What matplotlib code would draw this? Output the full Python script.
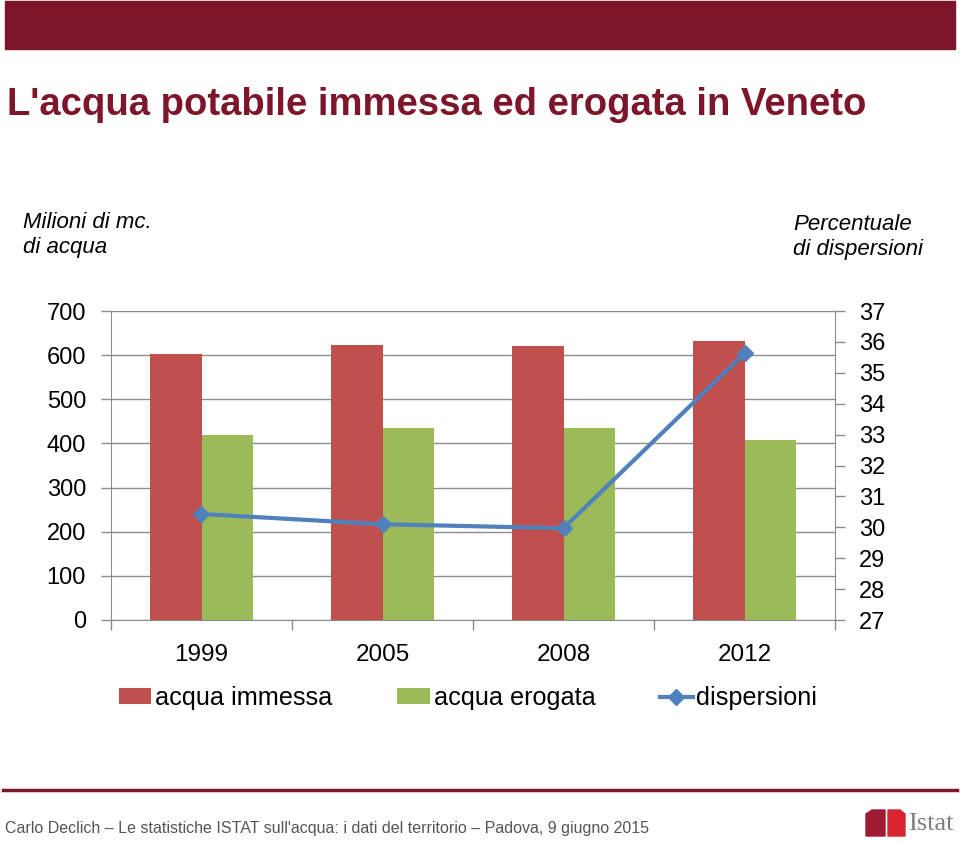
import matplotlib
matplotlib.use("Agg")
import matplotlib.pyplot as plt
import numpy as np
from matplotlib.patches import Rectangle, Polygon
from matplotlib.lines import Line2D

years = ['1999', '2005', '2008', '2012']
immessa = [602, 623, 621, 633]
erogata = [418, 436, 435, 407]
dispersioni = [30.43, 30.1, 29.97, 35.63]

RED = '#C0504D'
GREEN = '#9BBB59'
BLUE = '#4F81BD'
WINE = '#7E162B'
GRID = '#8C8C8C'

plt.rcParams['font.family'] = ['Liberation Sans', 'DejaVu Sans']

W, H = 960, 843
fig = plt.figure(figsize=(W / 100, H / 100), dpi=100)

def fx(px):
    return px / W

def fy(py):
    return 1 - py / H

# top banner and footer rule
fig.patches.append(Rectangle((fx(5), fy(49)), fx(950), 48 / H, transform=fig.transFigure,
                             color=WINE, zorder=0))
fig.add_artist(Line2D([fx(3), fx(957)], [fy(790), fy(790)], color=WINE, lw=2.5))

fig.text(fx(7), fy(105), "L'acqua potabile immessa ed erogata in Veneto",
         fontsize=27.5, fontweight='bold', color=WINE, va='center', ha='left')
fig.text(fx(23), fy(235), "Milioni di mc.\ndi acqua", fontsize=16, style='italic',
         va='center', ha='left', linespacing=1.3)
fig.text(fx(793), fy(237), "Percentuale\ndi dispersioni", fontsize=16, style='italic',
         va='center', ha='left', linespacing=1.3)

ax = fig.add_axes([fx(111), fy(620), fx(835) - fx(111), (620 - 311) / H])
x = np.arange(len(years))
bw = 0.287
ax.bar(x - bw / 2, immessa, bw, color=RED, label='acqua immessa', zorder=2)
ax.bar(x + bw / 2, erogata, bw, color=GREEN, label='acqua erogata', zorder=2)
ax.set_xlim(-0.5, 3.5)
ax.set_ylim(0, 700)
ax.set_yticks(range(0, 701, 100))
ax.grid(axis='y', color=GRID, lw=1, zorder=0)
ax.set_axisbelow(True)
ax.set_xticks(x)
ax.set_xticklabels(years)
ax.set_xticks(np.arange(-0.5, 4, 1), minor=True)
ax.tick_params(axis='x', which='major', length=0, pad=17, labelsize=17.5)
ax.tick_params(axis='x', which='minor', length=7, color=GRID, width=1)
ax.tick_params(axis='y', length=7, color=GRID, width=1, pad=11, labelsize=17)
for s in ['top', 'right']:
    ax.spines[s].set_visible(False)
for s in ['left', 'bottom']:
    ax.spines[s].set_color(GRID)

ax2 = ax.twinx()
ax2.plot(x, dispersioni, color=BLUE, lw=3, marker='D', markersize=8,
         label='dispersioni', zorder=3)
ax2.set_ylim(27, 37)
ax2.set_yticks(range(27, 38))
ax2.tick_params(axis='y', length=7, color=GRID, width=1, pad=10, labelsize=17)
for s in ['top', 'left', 'bottom']:
    ax2.spines[s].set_visible(False)
ax2.spines['right'].set_color(GRID)

h1, l1 = ax.get_legend_handles_labels()
h2, l2 = ax2.get_legend_handles_labels()
fig.legend(h1 + h2, l1 + l2, loc='center', bbox_to_anchor=(fx(468), fy(698)), ncol=3,
           frameon=False, fontsize=18.2, handlelength=1.3, handleheight=0.6,
           handletextpad=0.15, columnspacing=2.55, borderpad=0)

fig.text(fx(5), fy(828), "Carlo Declich \u2013 Le statistiche ISTAT sull'acqua: i dati del territorio \u2013 Padova, 9 giugno 2015",
         fontsize=11.5, color='#555555', va='center', ha='left')

# Istat logo
fig.patches.append(Polygon([(fx(866), fy(836)), (fx(866), fy(814)), (fx(872), fy(810)),
                            (fx(885), fy(810)), (fx(885), fy(836))],
                           closed=True, transform=fig.transFigure, color='#9E1B32'))
fig.patches.append(Polygon([(fx(888), fy(836)), (fx(888), fy(810)), (fx(900), fy(810)),
                            (fx(905), fy(814)), (fx(905), fy(836))],
                           closed=True, transform=fig.transFigure, color='#D7262E'))
fig.text(fx(908), fy(824), "Istat", fontsize=19, color='#7F7F7F', va='center', ha='left',
         family=['Liberation Serif', 'DejaVu Serif'])

fig.savefig('out.png', dpi=100)
